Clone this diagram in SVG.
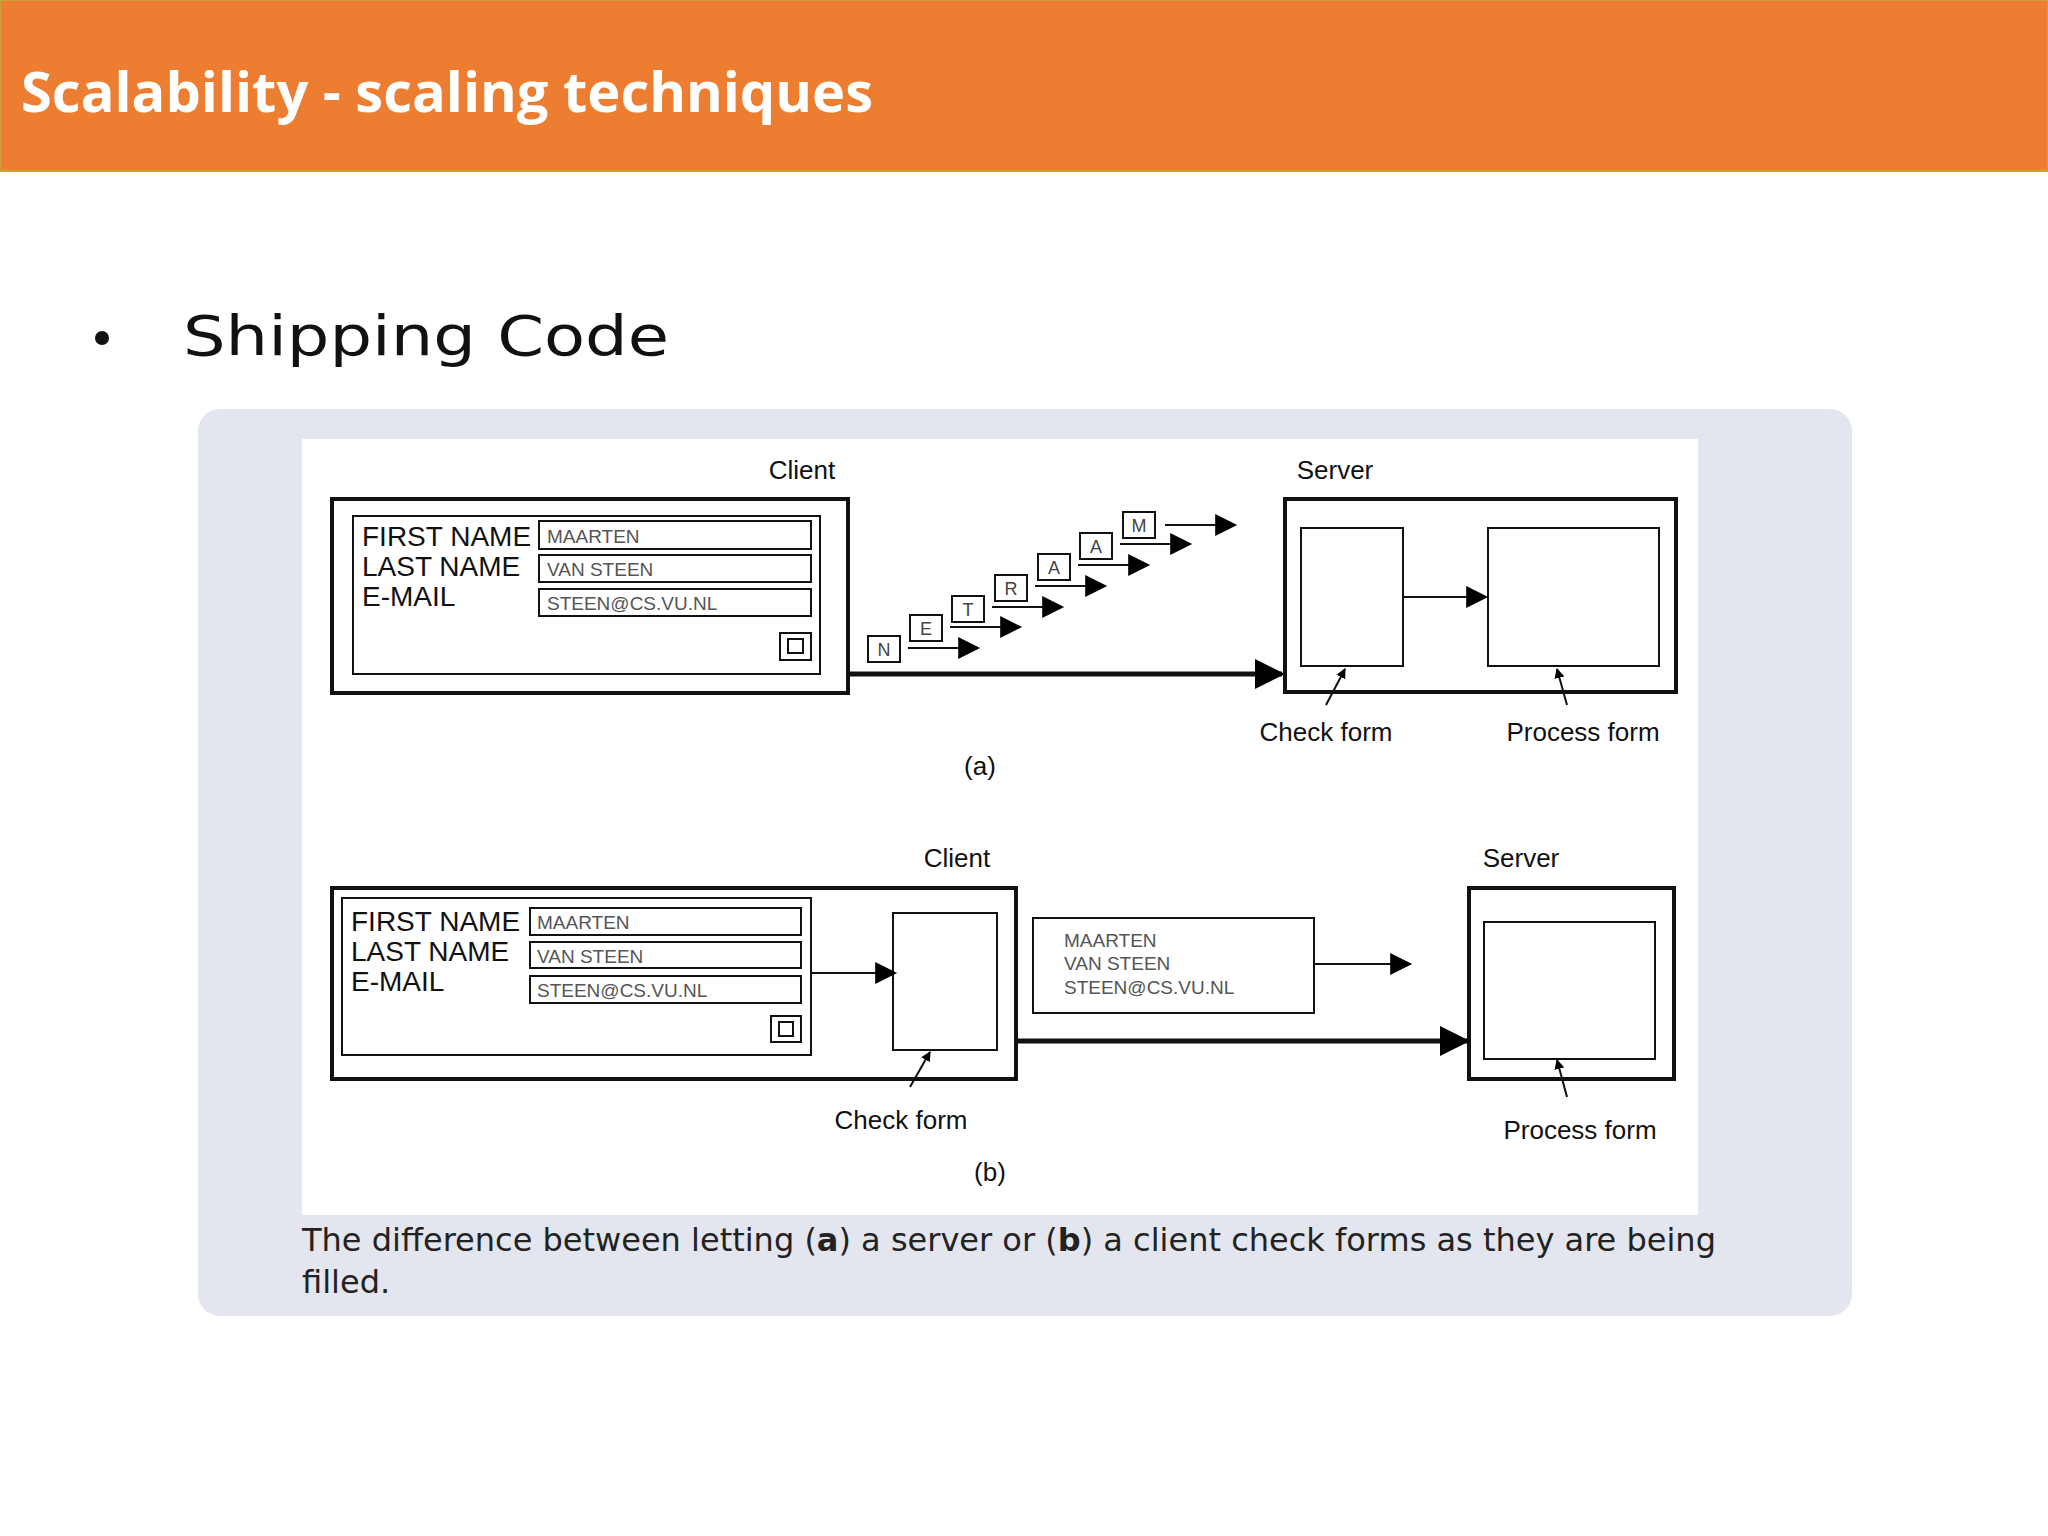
<svg xmlns="http://www.w3.org/2000/svg" width="2048" height="1536" viewBox="0 0 2048 1536">
<defs>
<marker id="ah" viewBox="0 0 10 10" refX="9" refY="5" markerWidth="10" markerHeight="10" markerUnits="userSpaceOnUse" orient="auto"><path d="M0,0 L10,5 L0,10 Z" fill="#000"/></marker>
<marker id="am" viewBox="0 0 10 10" refX="9" refY="5" markerWidth="26" markerHeight="22" markerUnits="userSpaceOnUse" orient="auto"><path d="M0,0 L10,5 L0,10 Z" fill="#000"/></marker>
<marker id="ab" viewBox="0 0 10 10" refX="9" refY="5" markerWidth="34" markerHeight="30" markerUnits="userSpaceOnUse" orient="auto"><path d="M0,0 L10,5 L0,10 Z" fill="#000"/></marker>
</defs>
<style>
.d{font-family:"Liberation Sans",Arial,sans-serif;fill:#111}
.lb{font-size:26px}
.fl{font-size:28px}
.fv{font-size:19px;fill:#555}
.bx{fill:#fff;stroke:#111;stroke-width:2}
.ob{fill:#fff;stroke:#111;stroke-width:4}
.ln{stroke:#111;stroke-width:2;fill:none}
.th{stroke:#111;stroke-width:5;fill:none}
.lt{font-size:18px;fill:#444;text-anchor:middle}
</style>
<rect width="2048" height="1536" fill="#fff"/>
<g id="header">
<rect x="0" y="0" width="2048" height="171" fill="#ED7D31" stroke="#C9A23A" stroke-width="2"/>
<text x="21" y="112" font-family="'Open Sans','Liberation Sans',sans-serif" font-weight="bold" font-size="56" fill="#fff">Scalability - scaling techniques</text>
</g>
<g id="bullet">
<circle cx="102" cy="338" r="7" fill="#111"/>
<text x="183" y="355" font-family="'DejaVu Sans',sans-serif" font-size="56" fill="#111" textLength="486" lengthAdjust="spacingAndGlyphs">Shipping Code</text>
</g>
<g id="panel">
<rect x="198" y="409" width="1654" height="907" rx="22" fill="#E4E6EF"/>
<rect x="302" y="439" width="1396" height="776" fill="#fff"/>
<text x="302" y="1251" font-family="'DejaVu Sans',sans-serif" font-size="32" fill="#222">The difference between letting (<tspan font-weight="bold">a</tspan>) a server or (<tspan font-weight="bold">b</tspan>) a client check forms as they are being</text>
<text x="302" y="1293" font-family="'DejaVu Sans',sans-serif" font-size="32" fill="#222">filled.</text>
</g>
<g id="a-client">
<text class="d lb" x="802" y="479" text-anchor="middle">Client</text>
<rect class="ob" x="332" y="499" width="516" height="194"/>
<rect class="bx" x="353" y="516" width="467" height="158"/>
<text class="d fl" x="362" y="546">FIRST NAME</text>
<text class="d fl" x="362" y="576">LAST NAME</text>
<text class="d fl" x="362" y="606">E-MAIL</text>
<rect class="bx" x="539" y="521" width="272" height="28"/><text class="d fv" x="547" y="543">MAARTEN</text>
<rect class="bx" x="539" y="555" width="272" height="27"/><text class="d fv" x="547" y="576">VAN STEEN</text>
<rect class="bx" x="539" y="589" width="272" height="27"/><text class="d fv" x="547" y="610">STEEN@CS.VU.NL</text>
<rect class="bx" x="780" y="633" width="31" height="27"/><rect class="bx" x="788" y="639" width="15" height="14"/>
</g>
<g id="a-letters">
<rect class="bx" x="868" y="636" width="32" height="26"/><text class="d lt" x="884" y="656">N</text>
<rect class="bx" x="910" y="615" width="32" height="26"/><text class="d lt" x="926" y="635">E</text>
<rect class="bx" x="952" y="596" width="32" height="26"/><text class="d lt" x="968" y="616">T</text>
<rect class="bx" x="995" y="575" width="32" height="26"/><text class="d lt" x="1011" y="595">R</text>
<rect class="bx" x="1038" y="554" width="32" height="26"/><text class="d lt" x="1054" y="574">A</text>
<rect class="bx" x="1080" y="533" width="32" height="26"/><text class="d lt" x="1096" y="553">A</text>
<rect class="bx" x="1123" y="512" width="32" height="26"/><text class="d lt" x="1139" y="532">M</text>
</g>
<g id="a-server">
<text class="d lb" x="1335" y="479" text-anchor="middle">Server</text>
<rect class="ob" x="1285" y="499" width="391" height="193"/>
<rect class="bx" x="1301" y="528" width="102" height="138"/>
<rect class="bx" x="1488" y="528" width="171" height="138"/>
<text class="d lb" x="1326" y="741" text-anchor="middle">Check form</text>
<text class="d lb" x="1583" y="741" text-anchor="middle">Process form</text>
<text class="d lb" x="980" y="775" text-anchor="middle">(a)</text>
</g>
<g id="b-client">
<text class="d lb" x="957" y="867" text-anchor="middle">Client</text>
<rect class="ob" x="332" y="888" width="684" height="191"/>
<rect class="bx" x="342" y="898" width="469" height="157"/>
<text class="d fl" x="351" y="931">FIRST NAME</text>
<text class="d fl" x="351" y="961">LAST NAME</text>
<text class="d fl" x="351" y="991">E-MAIL</text>
<rect class="bx" x="530" y="908" width="271" height="27"/><text class="d fv" x="537" y="929">MAARTEN</text>
<rect class="bx" x="530" y="942" width="271" height="26"/><text class="d fv" x="537" y="963">VAN STEEN</text>
<rect class="bx" x="530" y="976" width="271" height="27"/><text class="d fv" x="537" y="997">STEEN@CS.VU.NL</text>
<rect class="bx" x="771" y="1016" width="30" height="26"/><rect class="bx" x="779" y="1022" width="14" height="14"/>
<rect class="bx" x="893" y="913" width="104" height="137"/>
<text class="d lb" x="901" y="1129" text-anchor="middle">Check form</text>
</g>
<g id="b-message">
<rect class="bx" x="1033" y="918" width="281" height="95"/>
<text class="d fv" x="1064" y="947" fill="#333">MAARTEN</text>
<text class="d fv" x="1064" y="970" fill="#333">VAN STEEN</text>
<text class="d fv" x="1064" y="994" fill="#333">STEEN@CS.VU.NL</text>
</g>
<g id="b-server">
<text class="d lb" x="1521" y="867" text-anchor="middle">Server</text>
<rect class="ob" x="1469" y="888" width="205" height="191"/>
<rect class="bx" x="1484" y="922" width="171" height="137"/>
<text class="d lb" x="1580" y="1139" text-anchor="middle">Process form</text>
<text class="d lb" x="990" y="1181" text-anchor="middle">(b)</text>
</g>
<g id="connectors">
<line class="th" x1="848" y1="674" x2="1282" y2="674" marker-end="url(#ab)"/>
<line class="ln" x1="908" y1="648" x2="978" y2="648" marker-end="url(#am)"/>
<line class="ln" x1="950" y1="627" x2="1020" y2="627" marker-end="url(#am)"/>
<line class="ln" x1="992" y1="607" x2="1062" y2="607" marker-end="url(#am)"/>
<line class="ln" x1="1035" y1="586" x2="1105" y2="586" marker-end="url(#am)"/>
<line class="ln" x1="1078" y1="565" x2="1148" y2="565" marker-end="url(#am)"/>
<line class="ln" x1="1120" y1="544" x2="1190" y2="544" marker-end="url(#am)"/>
<line class="ln" x1="1165" y1="525" x2="1235" y2="525" marker-end="url(#am)"/>
<line class="ln" x1="1403" y1="597" x2="1486" y2="597" marker-end="url(#am)"/>
<line class="ln" x1="1326" y1="705" x2="1345" y2="669" marker-end="url(#ah)"/>
<line class="ln" x1="1567" y1="705" x2="1557" y2="669" marker-end="url(#ah)"/>
<line class="ln" x1="811" y1="973" x2="895" y2="973" marker-end="url(#am)"/>
<line class="ln" x1="910" y1="1087" x2="930" y2="1052" marker-end="url(#ah)"/>
<line class="ln" x1="1314" y1="964" x2="1410" y2="964" marker-end="url(#am)"/>
<line class="th" x1="1016" y1="1041" x2="1467" y2="1041" marker-end="url(#ab)"/>
<line class="ln" x1="1567" y1="1097" x2="1557" y2="1060" marker-end="url(#ah)"/>
</g>
</svg>
